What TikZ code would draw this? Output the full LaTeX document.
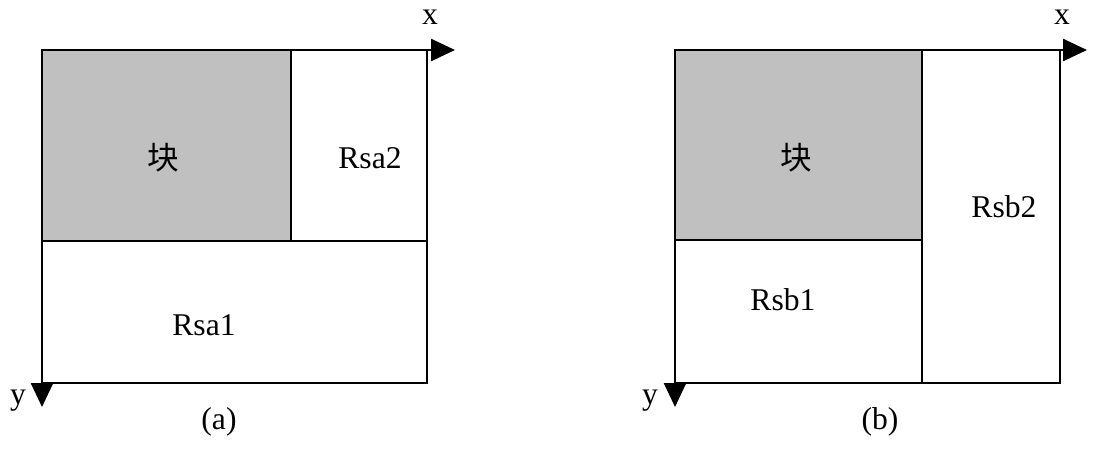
\documentclass[tikz,border=0pt]{standalone}
\usepackage{fontspec}
\setmainfont{Liberation Serif}
\newfontfamily\cjk{Noto Sans CJK SC}
\usetikzlibrary{arrows.meta}
\usepackage{xcolor}
\definecolor{blockgray}{RGB}{192,192,192}

\begin{document}
\begin{tikzpicture}[x=0.025cm,y=-0.025cm]

		\tikzstyle{region} = [draw, line width=1.8pt]
		\tikzstyle{txt} = [font=\fontsize{22.5pt}{27pt}\selectfont, inner sep=0pt]
		\tikzstyle{axis} = [draw, line width=1.8pt, -{Triangle[length=0.6cm,width=0.55cm]}]

		\useasboundingbox (0,0) rectangle (1108,448);

		% (a)
		\coordinate (oa) at (42,50);
		\coordinate (xa) at (455,50);
		\coordinate (ya) at (42,407);
		\draw [region,fill=blockgray] (oa) rectangle (291,241);
		\draw [region] (291,50) rectangle (427,241);
		\draw [region] (42,241) rectangle (427,383);
		\node [txt] (ka) at (163,158) {\cjk 块};
		\node [txt] (rsa2) at (370,158) {Rsa2};
		\node [txt] (rsa1) at (204,325) {Rsa1};
		\draw [axis] (oa) -- (xa);
		\draw [axis] (oa) -- (ya);
		\node [txt] (xla) at (430,17) {x};
		\node [txt] (yla) at (18,401) {y};
		\node [txt] (capa) at (219,422) {(a)};

		% (b)
		\coordinate (ob) at (675,50);
		\coordinate (xb) at (1087,50);
		\coordinate (yb) at (675,407);
		\draw [region,fill=blockgray] (ob) rectangle (922,240);
		\draw [region] (675,240) rectangle (922,383);
		\draw [region] (922,50) rectangle (1060,383);
		\node [txt] (kb) at (796,158) {\cjk 块};
		\node [txt] (rsb2) at (1004,207) {Rsb2};
		\node [txt] (rsb1) at (783,300) {Rsb1};
		\draw [axis] (ob) -- (xb);
		\draw [axis] (ob) -- (yb);
		\node [txt] (xlb) at (1062,17) {x};
		\node [txt] (ylb) at (650,401) {y};
		\node [txt] (capb) at (880,422) {(b)};

	\end{tikzpicture}
\end{document}
